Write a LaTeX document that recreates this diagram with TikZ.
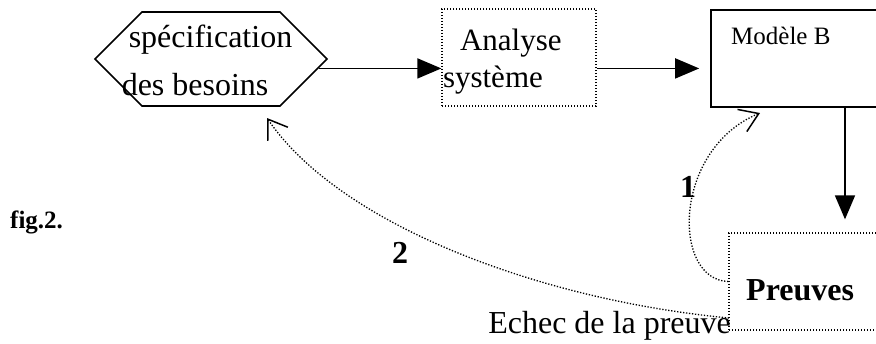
\documentclass[tikz,border=0pt]{standalone}
\usepackage{fontspec}
\setmainfont{Liberation Serif}
\usetikzlibrary{shapes.symbols,arrows.meta}

\begin{document}
\begin{tikzpicture}
  [x=1pt,y=-1pt,
   solid box/.style={draw=black,line width=1.6pt},
   dot box/.style={draw=black,line width=1.3pt,dash pattern=on 1.3pt off 1.7pt},
   flow/.style={line width=1.6pt,-{Triangle[length=24pt,width=20pt]}},
   back/.style={line width=1.3pt,dash pattern=on 1.3pt off 1.7pt,
                -{Straight Barb[length=18pt,width=24pt,line width=1.5pt]}},
   num/.style={font=\fontsize{32}{32}\selectfont\bfseries,inner sep=0pt}]
  \useasboundingbox (0,0) rectangle (876,343);
  \clip (0,0) rectangle (876,343);

  \node[solid box,signal,signal to=east and west,signal pointer angle=90,
        minimum width=232pt,minimum height=94pt,inner sep=0pt] (spec) at (211,59) {};
  \node[align=left,inner sep=0pt,font=\fontsize{32}{48}\selectfont] (spectxt) at (207,60)
    {\hspace*{7pt}spécification\\des besoins};
  \node[dot box,minimum width=154pt,minimum height=97pt,text width=152pt,inner sep=1pt,
        align=left,font=\fontsize{31}{37}\selectfont] (ana) at (519,57.5)
    {\rule{0pt}{30pt}\hspace*{17pt}Analyse\\système};
  \node[solid box,minimum width=268pt,minimum height=97pt] (mod) at (845,58.5) {};
  \node[anchor=base west,inner sep=0pt,font=\fontsize{25}{25}\selectfont] (modlbl) at (731,44) {Modèle B};
  \node[dot box,minimum width=271pt,minimum height=97pt] (pre) at (864.5,281.5) {};
  \node[anchor=base west,inner sep=0pt,font=\fontsize{32}{32}\selectfont\bfseries] (prelbl) at (746,300) {Preuves};
  \node[anchor=base east,inner sep=0pt,font=\fontsize{32}{32}\selectfont] (echec) at (731,333) {Echec de la preuve};
  \node[anchor=base west,inner sep=0pt,font=\fontsize{25}{25}\selectfont\bfseries] (fig) at (10,228) {fig.2.};
  \node[num,anchor=base] (n1) at (688,197) {1};
  \node[num,anchor=base] (n2) at (400,263) {2};

  \coordinate (t1) at (760,113);
  \coordinate (s2) at (729,318);
  \coordinate (t2) at (267,118);

  \draw[flow] (spec.-5) -- (spec.-5 -| ana.west);
  \draw[flow,shorten >=11pt] (ana.east |- spec.-5) -- (mod.west |- spec.-5);
  \draw[flow,shorten >=13pt] (mod.south) -- (mod.south |- pre.north);

  % retours en cas d'echec
  \draw[back] (pre.west) .. controls (672,280) and (672,150) .. (t1);
  \draw[back] (s2) .. controls (540,300) and (340,225) .. (t2);
\end{tikzpicture}
\end{document}
